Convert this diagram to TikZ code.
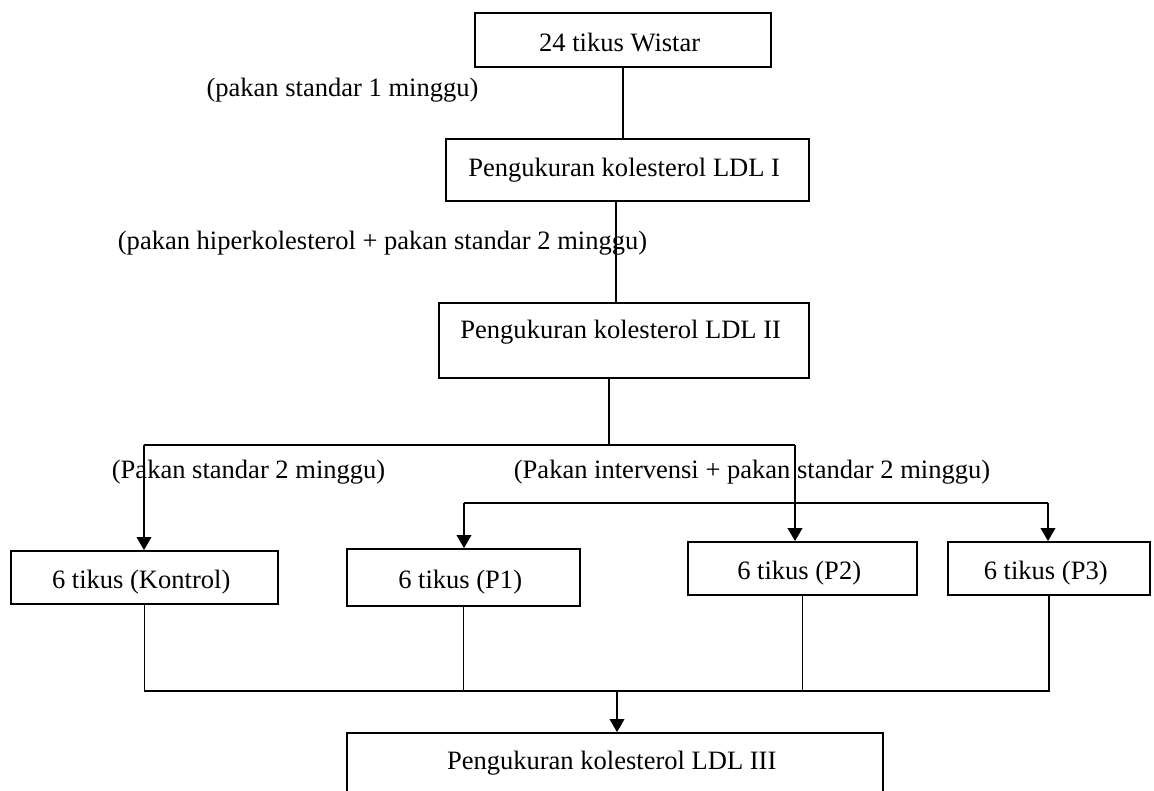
\documentclass[tikz,border=0pt]{standalone}
\usepackage{fontspec}
\setmainfont{Liberation Serif}
\usetikzlibrary{arrows.meta}

\newcommand{\pxu}{0.75pt}

\begin{document}
\begin{tikzpicture}[%
    x=0.75pt, y=-0.75pt,          % one unit is one pixel, y runs downwards
    >={Triangle[length=9.8pt, width=11pt]}, % filled arrow heads
    line width=1.35pt,
    ]

\tikzset{
  base/.style={draw, rectangle, inner sep=0pt, align=center, font=\fontsize{19.9}{24}\selectfont},
  group/.style={base, text height=18pt, text depth=0.75pt},
  tall/.style={base, text height=27pt, text depth=29.25pt},
  note/.style={inner sep=0pt, font=\fontsize{19.9}{24}\selectfont}
  };

\useasboundingbox (0,0) rectangle (1154,791);
\clip (0,0) rectangle (1154,791);

% Measurements
\node[group, minimum width=296*\pxu, minimum height=54*\pxu] (wistar) at (623,40) { 24 tikus Wistar };

\node[base, minimum width=363*\pxu, minimum height=62*\pxu] (ldlI) at (627.5,170) { Pengukuran kolesterol LDL I };

\node[tall, minimum width=370*\pxu] (ldlII) at (624,340.5) { Pengukuran kolesterol LDL II };

% Groups
\node[group, minimum width=267*\pxu, minimum height=53*\pxu] (kontrol) at (144.5,577.5) { 6 tikus (Kontrol) };

\node[group, minimum width=233*\pxu, minimum height=57*\pxu] (p1) at (463.5,577.5) { 6 tikus (P1) };

\node[group, minimum width=229*\pxu, minimum height=53*\pxu] (p2) at (802.5,568.5) { 6 tikus (P2) };

\node[group, minimum width=202*\pxu, minimum height=53*\pxu] (p3) at (1049,568.5) { 6 tikus (P3) };

\node[tall, minimum width=536*\pxu] (ldlIII) at (615,770.5) { Pengukuran kolesterol LDL III };

% Feeding notes
\node[note] (week1) at (342.5,90) { (pakan standar 1 minggu) };
\node[note, anchor=west] (hiper) at (117,243) { (pakan hiperkolesterol + pakan standar 2 minggu) };
\node[note, anchor=west] (stdK) at (111,472) { (Pakan standar 2 minggu) };
\node[note, anchor=west] (interv) at (513,472) { (Pakan intervensi + pakan standar 2 minggu) };

% Junctions
\coordinate (split) at (609,445);
\coordinate (splitK) at (144,445);
\coordinate (splitP) at (795,445);
\coordinate (branchA) at (464,503);
\coordinate (branchB) at (1048,503);
\coordinate (merge) at (617,691);

\draw (wistar.south) -- (wistar.south |- ldlI.north);
\draw ([xshift=-8.6pt]ldlI.south) -- ([xshift=-8.6pt]ldlI.south |- ldlII.north);
\draw (ldlII.south -| split) -- (split);

\draw (splitK) -- (splitP);
\draw[->] (splitK) -- (splitK |- kontrol.north);
\draw[->] (splitP) -- (splitP |- p2.north);

\draw (branchA) -- (branchB);
\draw[->] (branchA) -- (branchA |- p1.north);
\draw[->] (branchB) -- (branchB |- p3.north);

\draw (kontrol.south) -- (kontrol.south |- merge) -- (p3.south |- merge) -- (p3.south);
\draw (p1.south) -- (p1.south |- merge);
\draw (p2.south) -- (p2.south |- merge);
\draw[->] (merge) -- (merge |- ldlIII.north);

\end{tikzpicture}
\end{document}
